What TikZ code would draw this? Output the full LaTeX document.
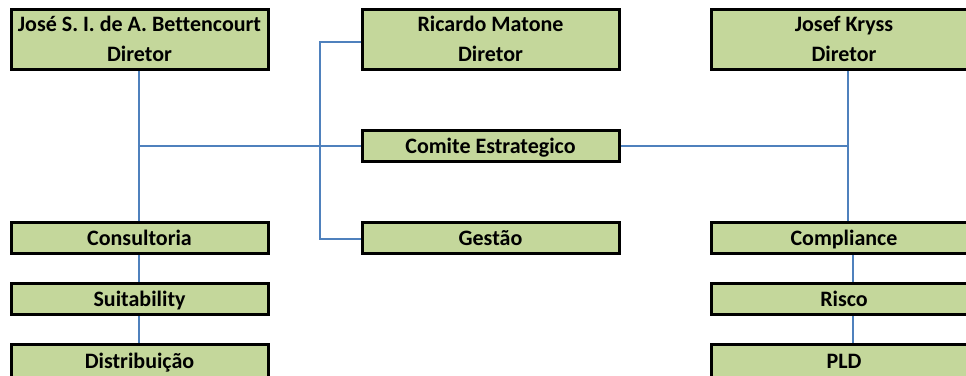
\documentclass[tikz,border=0pt]{standalone}
\usepackage{fontspec}
\setmainfont{Carlito}[Ligatures=NoCommon]
\usepackage{tikz}
\usetikzlibrary{positioning}
\pgfdeclarelayer{below}
\pgfsetlayers{below,main}
\definecolor{boxgreen}{RGB}{196,215,155}
\definecolor{linkblue}{RGB}{79,129,189}
\tikzset{
	every node/.style={align=center},
	%
	block/.style={
		draw, fill=boxgreen, line width=2.25pt, inner sep=0pt, outer sep=0pt,
		minimum width=192.75pt, font=\fontsize{16.5}{22.5}\selectfont\bfseries},
	head/.style={block, minimum height=45pt},
	unit/.style={block, align=none, text height=14pt, text depth=2.75pt,
		minimum height=23.25pt},
	wide/.style={minimum width=199.5pt},
	%
	link/.style={draw, linkblue, line width=1.2pt},
}

\begin{document}
\begin{tikzpicture}
		\useasboundingbox (0,0) rectangle (724.5pt,-281.25pt);
		\node (jose) [head, anchor=north west] at (8.25pt,-6.75pt)
			{José S. I. de A. Bettencourt\\Diretor};
		\node (ricardo) [head, right=70.5pt of jose] {Ricardo Matone\\Diretor};
		\node (josef) [head, wide, right=69pt of ricardo] {Josef Kryss\\Diretor};
		\node (comite) [unit, below=45.75pt of ricardo] {Comite Estrategico};
		\node (gestao) [unit, below=45.75pt of comite] {Gestão};
		%
		\node (consultoria) [unit] at (jose |- gestao) {Consultoria};
		\node (suitability) [unit, below=22.5pt of consultoria] {Suitability};
		\node (distribuicao) [unit, below=22.5pt of suitability,
			minimum height=24.75pt] {Distribuição};
		\node (compliance) [unit, wide] at (josef |- gestao) {Compliance};
		\node (risco) [unit, wide, below=22.5pt of compliance] {Risco};
		\node (pld) [unit, wide, below=22.5pt of risco,
			minimum height=24.75pt] {PLD};
		%
		\coordinate (bus-left) at ([xshift=-0.375pt, yshift=-0.375pt]jose.south |- comite.west);
		\coordinate (bus-right) at ([xshift=3pt, yshift=-0.375pt]comite.east -| josef.south);
		\coordinate (bracket) at ([xshift=-31.5pt, yshift=-2.25pt]ricardo.west);
		\begin{pgfonlayer}{below}
			\draw [link] ([xshift=-0.375pt]jose.south) -- ([xshift=-0.375pt]consultoria.north);
			\draw [link] (bus-left) -- (bus-left -| comite.west);
			\draw [link] (bracket -| ricardo.west) -- (bracket)
				|- ([yshift=-1.125pt]gestao.west);
			\draw [link] (bus-right -| comite.east) -- (bus-right);
			\draw [link] ([xshift=3pt]josef.south) -- ([xshift=3pt]compliance.north);
			\draw [link] ([xshift=-0.375pt]consultoria.south) --
				([xshift=-0.375pt]suitability.north);
			\draw [link] ([xshift=-0.375pt]suitability.south) --
				([xshift=-0.375pt]distribuicao.north);
			\draw [link] ([xshift=6.75pt]compliance.south) --
				([xshift=6.75pt]risco.north);
			\draw [link] ([xshift=6.75pt]risco.south) -- ([xshift=6.75pt]pld.north);
		\end{pgfonlayer}
	\end{tikzpicture}
\end{document}
